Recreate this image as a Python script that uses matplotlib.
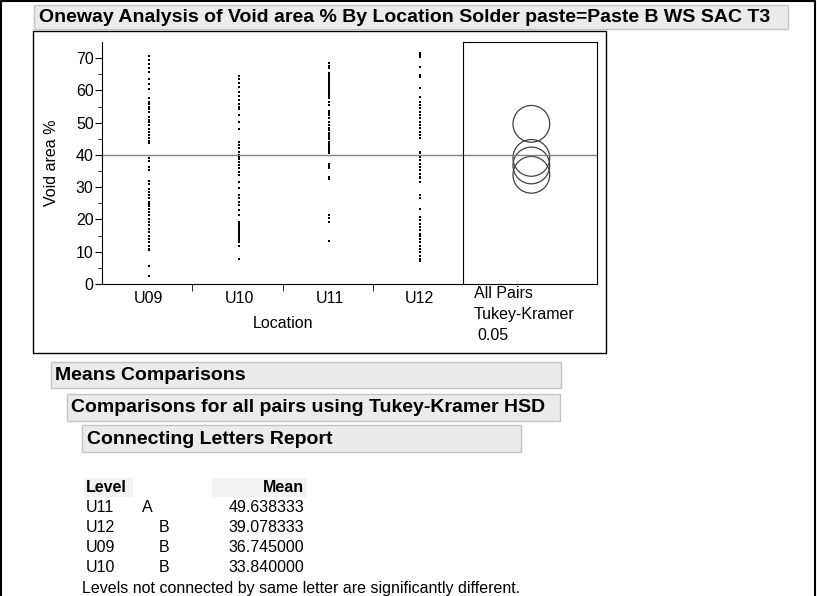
import matplotlib
matplotlib.use('Agg')
import matplotlib.pyplot as plt
from matplotlib.patches import Rectangle

plt.rcParams['font.family'] = ['Liberation Sans', 'DejaVu Sans']

W, H = 817, 596

# data
locations = ['U09', 'U10', 'U11', 'U12']
void_u09 = [70.8, 69.5, 68.3, 66.9, 65.6, 63.6, 62.0, 60.5, 57.6, 56.5, 55.7, 55.0, 54.3,
            53.2, 51.9, 50.8, 50.1, 49.3, 47.9, 47.0, 46.2, 45.1, 44.3, 43.6, 39.1, 38.1,
            36.3, 35.3, 31.8, 31.1, 29.4, 28.5, 27.5, 26.5, 25.4, 24.9, 24.2, 23.3, 22.3,
            21.3, 20.2, 19.2, 18.2, 17.1, 16.1, 15.0, 14.0, 13.0, 11.9, 10.9, 10.4, 5.7, 2.6]
void_u10 = [64.6, 63.5, 62.2, 61.0, 59.6, 58.3, 57.1, 55.7, 55.0, 54.3, 52.4, 50.3, 48.0,
            44.1, 43.0, 42.0, 41.0, 40.1, 39.4, 38.7, 37.9, 36.8, 35.8, 34.8, 33.9, 31.6,
            29.6, 27.5, 26.5, 25.4, 24.4, 22.8, 21.3, 19.2, 18.7, 18.2, 17.6, 17.1, 16.6,
            16.1, 15.6, 15.0, 14.5, 14.0, 13.5, 13.0, 11.9, 7.8]
void_u11 = [68.5, 67.7, 66.9, 65.4, 64.8, 64.3, 63.8, 63.3, 62.8, 62.2, 61.7, 61.2, 60.7,
            60.2, 59.6, 59.1, 58.6, 58.1, 57.6, 56.5, 55.5, 53.6, 52.9, 52.4, 51.3, 50.1,
            49.3, 48.2, 47.7, 46.7, 46.2, 45.6, 44.9, 44.1, 43.6, 43.0, 42.5, 42.0, 41.5,
            41.0, 40.5, 37.3, 36.6, 36.0, 33.2, 32.5, 21.3, 20.4, 19.2, 13.2]
void_u12 = [71.6, 71.1, 70.5, 67.4, 64.8, 64.3, 60.7, 58.1, 56.5, 55.5, 54.5, 53.4, 52.4,
            51.3, 50.1, 49.3, 48.2, 47.2, 46.2, 45.1, 41.0, 40.5, 39.4, 38.4, 37.3, 36.3,
            35.3, 34.2, 33.2, 32.7, 31.6, 27.5, 26.5, 23.3, 20.7, 19.7, 18.7, 17.6, 16.6,
            15.6, 15.0, 14.0, 13.0, 11.9, 10.9, 9.9, 8.8, 7.8, 7.0]
void_data = [void_u09, void_u10, void_u11, void_u12]

means = [36.745, 33.84, 49.638333, 39.078333]
grand_mean = sum(means) / len(means)

table_levels = ['U11', 'U12', 'U09', 'U10']
table_letters = ['A', 'B', 'B', 'B']
table_means = [49.638333, 39.078333, 36.745000, 33.840000]

fig = plt.figure(figsize=(W / 100, H / 100), dpi=100)

FS = 11.5   # regular text
FSB = 14    # bold headers


def fx(x):
    return x / W


def fy(y):
    return 1 - y / H


def box(x0, y0, x1, y1, fc='none', ec='black', lw=1.0, z=0):
    fig.patches.append(Rectangle((fx(x0), fy(y1)), (x1 - x0) / W, (y1 - y0) / H,
                                 transform=fig.transFigure, fc=fc, ec=ec, lw=lw, zorder=z))


def txt(x, y, s, **kw):
    fig.text(fx(x), fy(y), s, va='center', **kw)


# outer border (left, top, right)
fig.add_artist(plt.Line2D([fx(1), fx(1), fx(815), fx(815)], [fy(596), fy(1), fy(1), fy(596)],
                          transform=fig.transFigure, color='black', lw=1.5))

# title bar
box(34, 5, 788, 29, fc='#ebebeb', ec='#c4c4c4')
txt(39, 17, 'Oneway Analysis of Void area % By Location Solder paste=Paste B WS SAC T3',
    fontsize=FSB, fontweight='bold')

# plot frame
box(33, 31, 606, 353, ec='black', lw=1.0)

# main scatter axes
ax = fig.add_axes([fx(102), fy(284), (463 - 102) / W, (284 - 42) / H])
for i, vals in enumerate(void_data):
    ax.plot([i + 0.52] * len(vals), vals, 's', color='black', markersize=2.1, mew=0)
ax.axhline(grand_mean, color='#808080', lw=1.0)
ax.set_xlim(0, 4)
ax.set_ylim(0, 75)
ax.set_yticks(range(0, 80, 10))
ax.set_yticks(range(5, 75, 10), minor=True)
ax.set_xticks([i + 0.52 for i in range(4)])
ax.set_xticklabels(locations)
ax.set_xticks([1, 2, 3], minor=True)
ax.tick_params(axis='x', which='major', length=0, pad=5, labelsize=FS)
ax.tick_params(axis='x', which='minor', length=5, direction='out')
ax.tick_params(axis='y', which='major', length=5, labelsize=FS, pad=1)
ax.tick_params(axis='y', which='minor', length=3)
ax.set_ylabel('Void area %', fontsize=FS, labelpad=12)
ax.set_xlabel('Location', fontsize=FS, labelpad=7)
ax.spines['top'].set_visible(False)
ax.spines['right'].set_visible(False)

# comparison circles panel
ax2 = fig.add_axes([fx(463), fy(284), (597 - 463) / W, (284 - 42) / H])
ax2.set_xlim(0, 1)
ax2.set_ylim(0, 75)
ax2.scatter([0.51] * len(means), means, s=700, facecolors='none', edgecolors='#404040', lw=0.9)
ax2.axhline(grand_mean, color='#808080', lw=1.0)
ax2.set_xticks([])
ax2.set_yticks([])
txt(474, 294, 'All Pairs', fontsize=FS)
txt(474, 314, 'Tukey-Kramer', fontsize=FS)
txt(477, 335, '0.05', fontsize=FS)

# report headers
box(51, 362, 561, 388, fc='#ebebeb', ec='#c4c4c4')
txt(55, 375, 'Means Comparisons', fontsize=FSB, fontweight='bold')
box(67, 394, 560, 421, fc='#ebebeb', ec='#c4c4c4')
txt(71, 408, 'Comparisons for all pairs using Tukey-Kramer HSD', fontsize=FSB, fontweight='bold')
box(82, 425, 521, 452, fc='#ebebeb', ec='#c4c4c4')
txt(87, 439, 'Connecting Letters Report', fontsize=FSB, fontweight='bold')

# connecting letters table
box(84, 478, 133, 497, fc='#f2f2f2', ec='none')
box(212, 478, 307, 497, fc='#f2f2f2', ec='none')
txt(86, 488, 'Level', fontsize=FS, fontweight='bold')
txt(304, 488, 'Mean', fontsize=FS, fontweight='bold', ha='right')
for k, (lev, let, m) in enumerate(zip(table_levels, table_letters, table_means)):
    y = 507 + 20 * k
    txt(86, y, lev, fontsize=FS)
    txt(142 if let == 'A' else 159, y, let, fontsize=FS)
    txt(304, y, f'{m:.6f}', fontsize=FS, ha='right')
txt(82, 588, 'Levels not connected by same letter are significantly different.', fontsize=FS)

fig.savefig('out.png', dpi=100)
